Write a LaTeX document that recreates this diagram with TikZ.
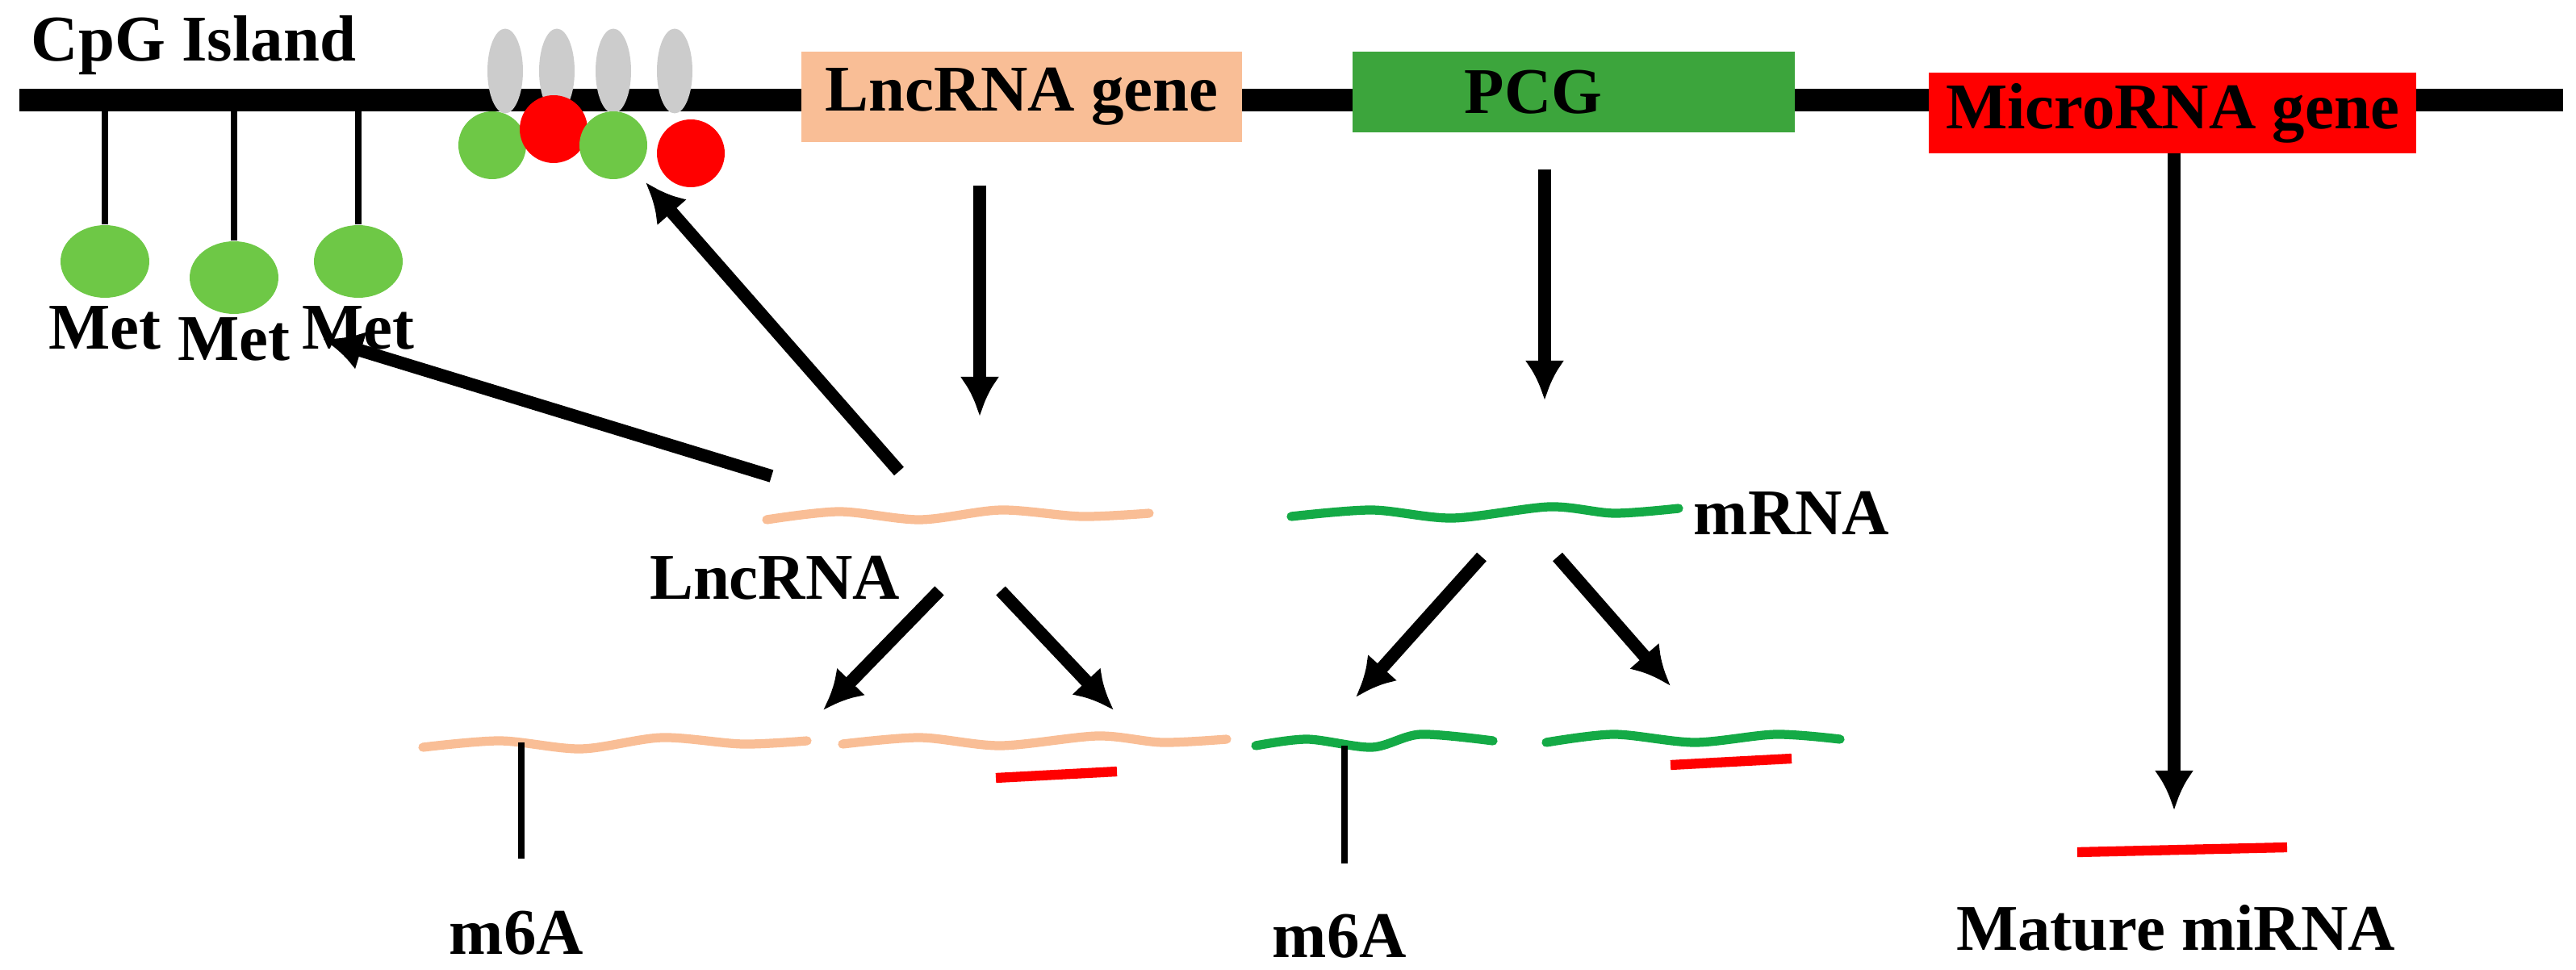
\documentclass[tikz,border=0pt]{standalone}
\usepackage{fontspec}
\setmainfont{Liberation Serif}
\usetikzlibrary{arrows.meta,shapes.geometric}
\begin{document}
\begin{tikzpicture}[x=0.02cm,y=-0.02cm,
  lbl/.style={font=\fontsize{23}{27}\selectfont\bfseries},
  arr/.style={line width=4.5pt,-{Latex[length=14pt,width=14pt]}},
  pin/.style={line width=2.4pt},
  wave/.style={line width=3.2pt,line cap=round},
  bar/.style={line width=3.5pt,red},
  gene/.style={minimum height=1cm,inner sep=0pt,font=\fontsize{23}{27}\selectfont\bfseries}]
\useasboundingbox (0,0) rectangle (1596,601);
\definecolor{peach}{RGB}{249,190,150}
\definecolor{rnagreen}{RGB}{20,170,70}
\definecolor{pcg}{RGB}{60,165,60}
\definecolor{metg}{RGB}{110,200,70}
% chromosome
\coordinate (cl) at (12,62); \coordinate (cr) at (1588,62);
\draw[line width=8pt] (cl) -- (cr);
\node[lbl] (cpg) at (120,28) {CpG Island};
% methylation pins
\foreach \x/\y/\ly [count=\i] in {65/162/203,145/172/210,222/162/203}{
  \coordinate (p\i) at (\x,62);
  \node[ellipse,fill=metg,minimum width=1.1cm,minimum height=0.9cm,inner sep=0pt] (m\i) at (\x,\y) {};
  \draw[pin] (p\i) -- (m\i);
  \node[lbl] (met\i) at (\x,\ly) {Met};
}
% histones
\foreach \x [count=\i] in {313,345,380,418}{
  \node[ellipse,fill=gray!40,minimum width=0.44cm,minimum height=1.05cm,inner sep=0pt] (h\i) at (\x,44) {};
}
\node[circle,fill=metg,minimum size=0.84cm,inner sep=0pt] (g1) at (305,90) {};
\node[circle,fill=red,minimum size=0.84cm,inner sep=0pt] (r1) at (343,80) {};
\node[circle,fill=metg,minimum size=0.84cm,inner sep=0pt] (g2) at (380,90) {};
\node[circle,fill=red,minimum size=0.84cm,inner sep=0pt] (r2) at (428,95) {};
% genes
\node[gene,fill=peach,minimum width=5.46cm,minimum height=1.12cm] (lnc) at (633,60) {LncRNA gene};
\node[gene,fill=pcg,minimum width=5.48cm] (pcgb) at (975,57) {\hspace*{-1cm}PCG};
\node[gene,fill=red,minimum width=6.04cm] (mir) at (1346,70) {MicroRNA gene};
% transcripts
\draw[wave,peach] plot[smooth] coordinates {(475,322) (520,317) (570,322) (620,316) (670,320) (712,318)};
\node[lbl] (lncl) at (480,358) {LncRNA};
\draw[wave,rnagreen] plot[smooth] coordinates {(800,320) (850,316) (900,321) (960,314) (1000,318) (1040,315)};
\node[lbl] (mrnal) at (1110,318) {mRNA};
\coordinate (lt) at (607,115); \coordinate (lb) at (607,258);
\coordinate (pt) at (957,105); \coordinate (pb) at (957,248);
\coordinate (mt) at (1347,95); \coordinate (mb) at (1347,502);
\draw[arr] (lt) -- (lb); \draw[arr] (pt) -- (pb); \draw[arr] (mt) -- (mb);
\coordinate (a1) at (478,295); \coordinate (a1e) at (200,210);
\coordinate (a2) at (557,292); \coordinate (a2e) at (400,113);
\draw[arr] (a1) -- (a1e); \draw[arr] (a2) -- (a2e);
\coordinate (b1) at (582,366); \coordinate (b1e) at (510,440);
\coordinate (b2) at (620,366); \coordinate (b2e) at (690,440);
\coordinate (c1) at (918,345); \coordinate (c1e) at (840,432);
\coordinate (c2) at (965,345); \coordinate (c2e) at (1035,425);
\draw[arr] (b1) -- (b1e); \draw[arr] (b2) -- (b2e);
\draw[arr] (c1) -- (c1e); \draw[arr] (c2) -- (c2e);
% bottom transcripts
\draw[wave,peach] plot[smooth] coordinates {(262,463) (310,459) (360,464) (410,457) (460,461) (500,459)};
\draw[wave,peach] plot[smooth] coordinates {(522,461) (570,457) (620,462) (680,456) (720,460) (760,458)};
\draw[bar] (617,482) -- (692,478);
\draw[wave,rnagreen] plot[smooth] coordinates {(778,462) (810,458) (850,463) (880,455) (925,459)};
\draw[wave,rnagreen] plot[smooth] coordinates {(958,460) (1000,455) (1050,460) (1100,455) (1140,458)};
\draw[bar] (1035,474) -- (1110,470);
\coordinate (s1) at (323,460); \coordinate (s1e) at (323,532);
\coordinate (s2) at (833,462); \coordinate (s2e) at (833,535);
\draw[pin] (s1) -- (s1e); \draw[pin] (s2) -- (s2e);
\node[lbl] (m6a1) at (320,578) {m6A};
\node[lbl] (m6a2) at (830,580) {m6A};
\draw[bar] (1287,528) -- (1417,525);
\node[lbl] (mat) at (1348,575) {Mature miRNA};
\end{tikzpicture}
\end{document}
